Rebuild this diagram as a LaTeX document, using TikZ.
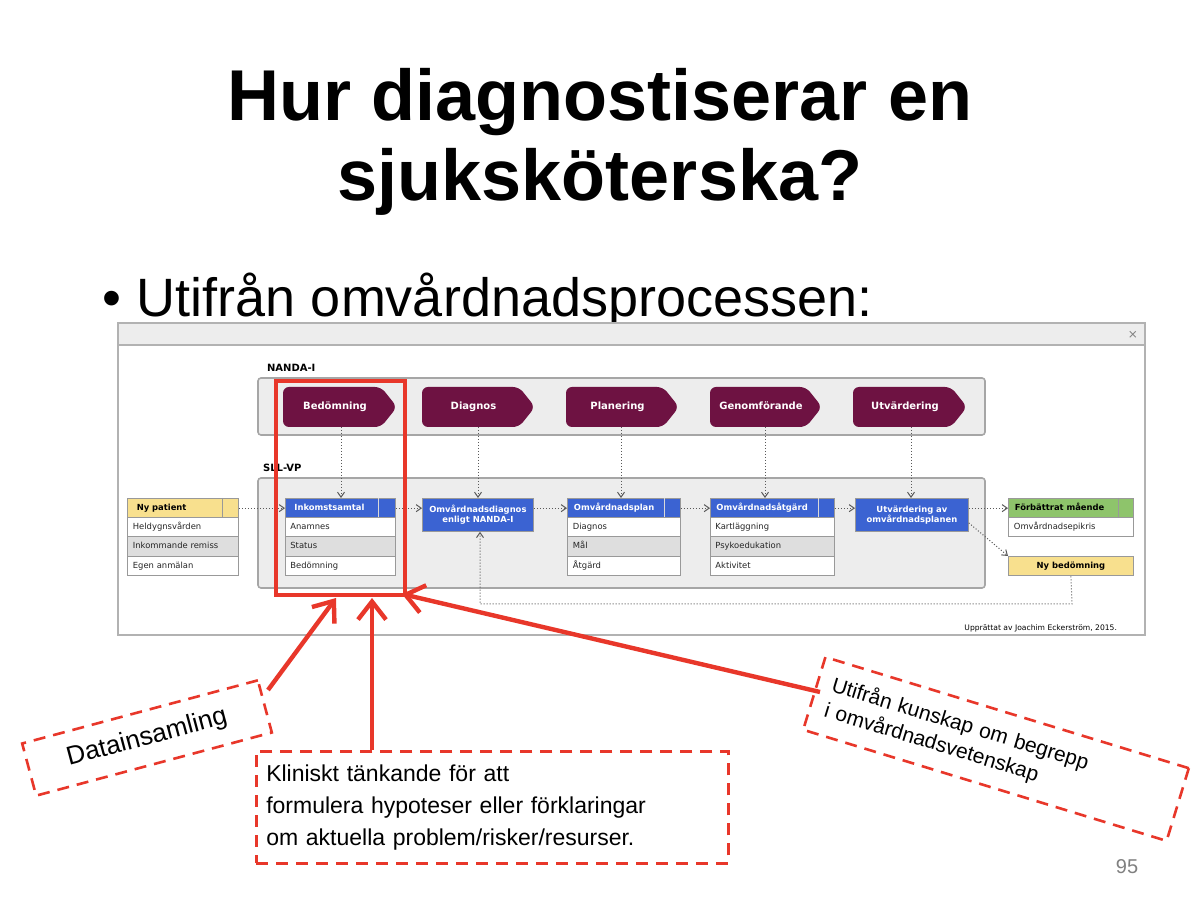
\documentclass[tikz,border=0pt]{standalone}
\usepackage{fontspec}
\setmainfont{Liberation Sans}
\newfontfamily\dv{DejaVu Sans}
\usetikzlibrary{arrows.meta}
\definecolor{plum}{HTML}{6E1242}
\definecolor{hblue}{HTML}{3B63D2}
\definecolor{hyel}{HTML}{F8E08E}
\definecolor{hgreen}{HTML}{8EC46B}
\definecolor{panel}{HTML}{EDEDED}
\definecolor{rowg}{HTML}{DEDEDE}
\definecolor{annred}{HTML}{E8372A}
\tikzset{
 grp/.style={draw=gray!70,fill=panel,line width=0.8pt,rounded corners=1.5pt},
 chev/.style={fill=plum,rounded corners=3pt},
 chevtxt/.style={text=white,font=\dv\bfseries\fontsize{5}{6}\selectfont,text height=3.7pt,text depth=1.1pt},
 hdr/.style={anchor=north west,minimum height=9.75pt,inner sep=1.5pt,draw=gray!80,line width=0.4pt,font=\dv\bfseries\fontsize{4.2}{5}\selectfont,text=white,align=left},
 one/.style={text height=3.1pt,text depth=0.9pt},
 row/.style={anchor=north west,minimum height=9.75pt,inner sep=2pt,draw=gray!80,line width=0.4pt,font=\dv\fontsize{4.2}{5}\selectfont,text=black!85,fill=white,text height=3.1pt,text depth=0.9pt},
 flow/.style={densely dotted,gray!70!black,line width=0.5pt,-{Straight Barb[length=2.5pt,width=3.5pt]}},
 ann/.style={annred,line width=2.2pt,-{Straight Barb[length=9pt,width=14pt,line width=2.2pt]}},
 dbox/.style={draw=annred,dashed,dash pattern=on 6pt off 4pt,line width=1.3pt,fill=white},
}
\newcommand\chevron[4]{% name, x1, x2, text
 \fill[chev] (#2,387) -- (#3-16,387) -- (#3,407) -- (#3-16,427) -- (#2,427) -- cycle;
 \node[chevtxt] (#1) at ({(#2+#3-10)/2},407) {#4};}
\begin{document}
\begin{tikzpicture}[x=0.5pt,y=-0.5pt]
\useasboundingbox (0,0) rectangle (1200,897);
\fill[white] (0,0) rectangle (1200,897);
% title
\node[font=\bfseries\fontsize{36}{40}\selectfont,align=center] (title) at (600,142) {Hur diagnostiserar en\\sjuksköterska?};
\node[anchor=west,font=\fontsize{27}{30}\selectfont] (bullet) at (95,300) {•\hspace{8pt}Utifrån omvårdnadsprocessen:};
% screenshot
\draw[fill=white,draw=gray!60,line width=0.8pt] (118,323) rectangle (1145,635);
\draw[fill=panel,draw=gray!60,line width=0.8pt] (118,323) rectangle (1145,345);
\node[text=gray,font=\dv\fontsize{6}{7}\selectfont] (close) at (1133,335) {×};
\node[anchor=west,font=\dv\bfseries\fontsize{5}{6}\selectfont] (nandal) at (260,368) {NANDA-I};
\draw[grp] (258,378) rectangle (985,435);
\node[anchor=west,font=\dv\bfseries\fontsize{5}{6}\selectfont] (sllvp) at (256,468) {SLL-VP};
\draw[grp] (258,478) rectangle (985,588);
\chevron{c1}{283}{397}{Bedömning}
\chevron{c2}{422}{535}{Diagnos}
\chevron{c3}{566}{679}{Planering}
\chevron{c4}{710}{822}{Genomförande}
\chevron{c5}{853}{967}{Utvärdering}
% Ny patient
\node[hdr,one,fill=hyel,text=black,minimum width=55.5pt,text width=46pt] (np) at (127,498) {Ny patient};
\draw[gray!80,line width=0.4pt] (222,498) -- (222,517);
\node[row,minimum width=55.5pt,text width=50pt] (np1) at (127,517) {Heldygnsvården};
\node[row,minimum width=55.5pt,text width=50pt,fill=rowg] (np2) at (127,536.5) {Inkommande remiss};
\node[row,minimum width=55.5pt,text width=50pt] (np3) at (127,556) {Egen anmälan};
% Inkomstsamtal
\node[hdr,one,fill=hblue,minimum width=55pt,text width=46pt] (ik) at (285,498) {Inkomstsamtal};
\draw[white!70!gray,line width=0.4pt] (378,498) -- (378,517);
\node[row,minimum width=55pt,text width=50pt] (ik1) at (285,517) {Anamnes};
\node[row,minimum width=55pt,text width=50pt,fill=rowg] (ik2) at (285,536.5) {Status};
\node[row,minimum width=55pt,text width=50pt] (ik3) at (285,556) {Bedömning};
% Diagnos
\node[hdr,fill=hblue,anchor=north west,minimum width=55.5pt,minimum height=16.5pt,align=center] (od) at (422,498) {Omvårdnadsdiagnos\\enligt NANDA-I};
% Plan
\node[hdr,one,fill=hblue,minimum width=56.5pt,text width=50pt] (op) at (567,498) {Omvårdnadsplan};
\draw[white!70!gray,line width=0.4pt] (664,498) -- (664,517);
\node[row,minimum width=56.5pt,text width=51pt] (op1) at (567,517) {Diagnos};
\node[row,minimum width=56.5pt,text width=51pt,fill=rowg] (op2) at (567,536.5) {Mål};
\node[row,minimum width=56.5pt,text width=51pt] (op3) at (567,556) {Åtgärd};
% Atgard
\node[hdr,one,fill=hblue,minimum width=62pt,text width=56pt] (oa) at (710,498) {Omvårdnadsåtgärd};
\draw[white!70!gray,line width=0.4pt] (818,498) -- (818,517);
\node[row,minimum width=62pt,text width=57pt] (oa1) at (710,517) {Kartläggning};
\node[row,minimum width=62pt,text width=57pt,fill=rowg] (oa2) at (710,536.5) {Psykoedukation};
\node[row,minimum width=62pt,text width=57pt] (oa3) at (710,556) {Aktivitet};
% Utvardering av
\node[hdr,fill=hblue,minimum width=56.5pt,minimum height=16.5pt,align=center] (uv) at (855,498) {Utvärdering av\\omvårdnadsplanen};
% right
\node[hdr,one,fill=hgreen,text=black,minimum width=62.5pt,text width=56pt] (fm) at (1008,498) {Förbättrat mående};
\draw[gray!80,line width=0.4pt] (1118,498) -- (1118,517);
\node[row,minimum width=62.5pt,text width=57pt] (fm1) at (1008,517) {Omvårdnadsepikris};
\node[hdr,one,fill=hyel,text=black,minimum width=62.5pt,align=center] (nb) at (1008,556) {Ny bedömning};
\node[anchor=east,font=\dv\fontsize{3.8}{4.5}\selectfont] (upp) at (1124,628) {Upprättat av Joachim Eckerström, 2015.};
% flows
\draw[flow] (np.east) -- (ik.west);
\draw[flow] (ik.east) -- (od.west|-ik.east);
\draw[flow] (od.east|-ik.east) -- (op.west);
\draw[flow] (op.east) -- (oa.west);
\draw[flow] (oa.east) -- (uv.west|-oa.east);
\draw[flow] (uv.east|-oa.east) -- (fm.west);
\draw[flow] ([yshift=-4pt]uv.east) -- (nb.north west);
\draw[flow] (nb.south) -- (1072,604) -- (480,604) -- (od.south-|480,0);
\draw[flow] (341,427) -- (ik.north-|341,0);
\draw[flow] (478,427) -- (od.north-|478,0);
\draw[flow] (621,427) -- (op.north-|621,0);
\draw[flow] (765,427) -- (oa.north-|765,0);
\draw[flow] (911,427) -- (uv.north-|911,0);
% red annotations
\draw[annred,line width=2.2pt] (276,381) rectangle (405,595);
\coordinate (t1) at (336,598);
\coordinate (t2) at (372,598);
\coordinate (t3) at (402,594);
\node[dbox,rotate=15,minimum width=122pt,minimum height=27pt,font=\fontsize{13}{15}\selectfont] (dat) at (147,738) {Datainsamling};
\node[dbox,anchor=north west,minimum width=236pt,minimum height=56pt,align=left,font=\fontsize{11.5}{16}\selectfont,text width=226pt] (klin) at (255,750) {Kliniskt tänkande för att\\formulera hypoteser eller förklaringar\\om aktuella problem/risker/resurser.};
\node[dbox,rotate=-17,minimum width=190pt,minimum height=38pt,align=left,font=\fontsize{10.5}{13}\selectfont,text width=175pt] (kun) at (996,749) {Utifrån kunskap om begrepp\\i omvårdnadsvetenskap};
\draw[ann] (268,690) -- (t1);
\draw[ann] (klin.north-|t2) -- (t2);
\draw[ann] (820,692) -- (t3);
\node[text=gray,font=\fontsize{10}{12}\selectfont] (pg) at (1127,867) {95};
\end{tikzpicture}
\end{document}
